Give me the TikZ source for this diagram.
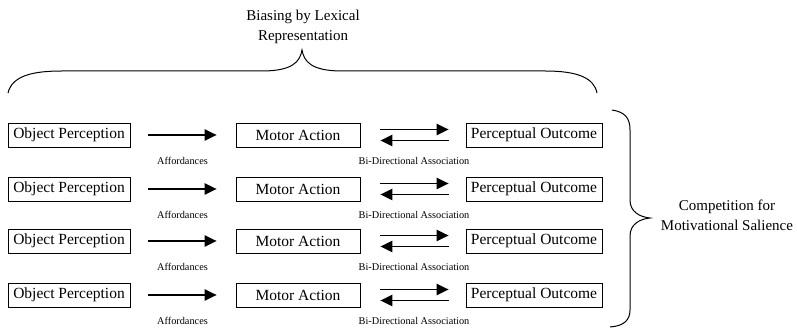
\documentclass[tikz,border=0pt]{standalone}
\usepackage{fontspec}
\setmainfont{Liberation Serif}
\usetikzlibrary{arrows.meta}
\tikzset{
  boxnode/.style={draw, line width=0.9pt, minimum height=24pt, inner sep=0pt, font=\fontsize{15.5}{17}\selectfont},
  arr/.style={line width=1.2pt, -{Triangle[length=12pt,width=11.5pt]}},
  lbl/.style={inner sep=0pt, font=\fontsize{10.3}{12}\selectfont},
  bigtxt/.style={inner sep=0pt, align=center, font=\fontsize{15}{20}\selectfont},
  bracel/.style={line width=1pt}
}
\begin{document}
\begin{tikzpicture}[x=1pt,y=-1pt]
\useasboundingbox (0,0) rectangle (797,328);
\foreach \i/\c in {1/135,2/189,3/241,4/295}{
  \node[boxnode, minimum width=122pt] (o\i) at (69,\c) {Object Perception};
  \node[boxnode, minimum width=124pt] (m\i) at (298,\c) {Motor Action};
  \node[boxnode, minimum width=136pt] (p\i) at (534,\c) {Perceptual Outcome};
  \draw[arr, shorten <=18pt, shorten >=19pt] (o\i) -- (m\i);
  \draw[arr, shorten <=20pt, shorten >=17pt] ([yshift=5.5pt]m\i.east) -- ([yshift=5.5pt]p\i.west);
  \draw[arr, shorten <=17pt, shorten >=20pt] ([yshift=-5.5pt]p\i.west) -- ([yshift=-5.5pt]m\i.east);
  \node[lbl] (a\i) at (182.5,\c+26) {Affordances};
  \node[lbl] (b\i) at (414,\c+26) {Bi-Directional Association};
}
% top brace
\draw[bracel] (8,93) .. controls (12,76) and (32,71) .. (62,71) -- (262,71)
  .. controls (292,71) and (300,62) .. (302,50)
  .. controls (304,62) and (312,71) .. (342,71) -- (545,71)
  .. controls (578,71) and (594,78) .. (597,93);
\node[bigtxt] (bias) at (303,27) {Biasing by Lexical\\Representation};
% right brace
\draw[bracel] (612,110) .. controls (625,112) and (630,118) .. (630,130) -- (630,200)
  .. controls (630,212) and (640,217) .. (650,218)
  .. controls (640,219) and (630,224) .. (630,236) -- (630,310)
  .. controls (630,320) and (624,326) .. (610,327);
\node[bigtxt] (comp) at (727,215) {Competition for\\Motivational Salience};
\end{tikzpicture}
\end{document}
